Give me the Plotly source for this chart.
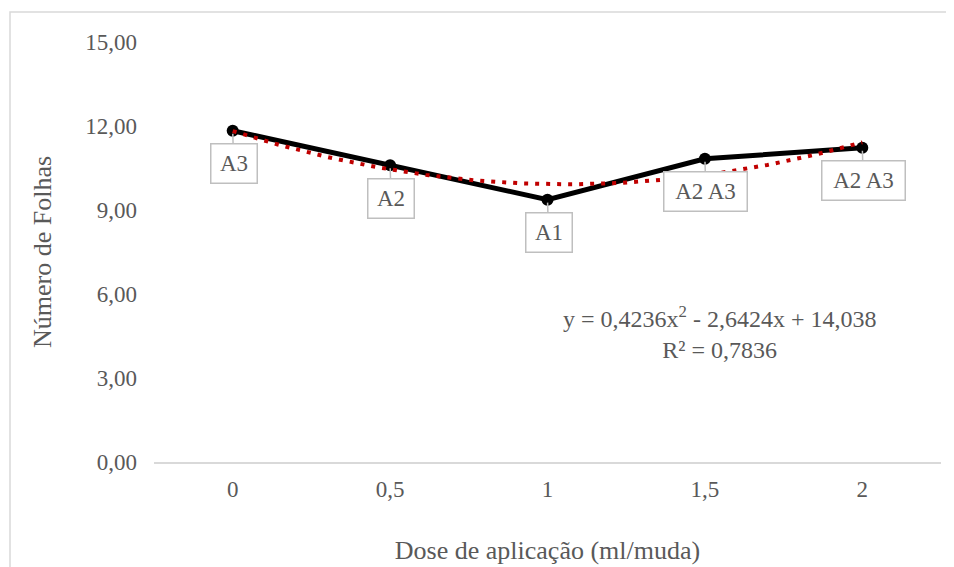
import numpy as np
import plotly.graph_objects as go

# ---- data ----
doses = [0, 0.5, 1, 1.5, 2]
dose_labels = ["0", "0,5", "1", "1,5", "2"]
folhas = [11.83, 10.60, 9.37, 10.83, 11.22]
point_labels = ["A3", "A2", "A1", "A2 A3", "A2 A3"]
y_ticks = [0, 3, 6, 9, 12, 15]

# polynomial trendline coefficients shown on the chart (x = category index 1..5)
coef_a, coef_b, coef_c = 0.4236, -2.6424, 14.038
eq_text = "y = 0,4236x<sup>2</sup> - 2,6424x + 14,038<br>R² = 0,7836"

FONT = "Liberation Serif, Times New Roman, serif"
GREY_TXT = "#595959"

# trendline evaluated on a fine grid between first and last category
idx = np.linspace(1, 5, 200)
trend_y = coef_a * idx**2 + coef_b * idx + coef_c
trend_x = (idx - 1) * 0.5

fig = go.Figure()
fig.add_trace(go.Scatter(
    x=doses, y=folhas, mode="lines+markers",
    line=dict(color="black", width=5),
    marker=dict(color="black", size=12),
    showlegend=False, hoverinfo="skip",
))
fig.add_trace(go.Scatter(
    x=trend_x, y=trend_y, mode="lines",
    line=dict(color="#C00000", width=4, dash="4px,7px"),
    showlegend=False, hoverinfo="skip",
))

for xv, yv, lab in zip(doses, folhas, point_labels):
    w = 41 if len(lab) <= 2 else 78
    fig.add_annotation(
        x=xv, y=yv, xref="x", yref="y", text=lab,
        showarrow=True, arrowhead=0, arrowwidth=1.5, arrowcolor="#BFBFBF",
        ax=1, ay=33, standoff=3,
        bgcolor="white", bordercolor="#BFBFBF", borderwidth=1.5, borderpad=2,
        width=w, height=34,
        font=dict(family=FONT, size=23, color=GREY_TXT),
    )

fig.add_annotation(
    x=1.545, y=4.62, xref="x", yref="y", text=eq_text, showarrow=False,
    xanchor="center", yanchor="middle", align="center",
    font=dict(family=FONT, size=24, color=GREY_TXT),
)

# page has an 8px body margin; plot area spans px 146..933 x 33..454.5 in figure coords
PL, PR, PT, PB = 146, 933, 33.5, 454.5
fig.add_shape(type="rect", xref="paper", yref="paper",
              x0=(2 - PL) / (PR - PL), x1=(1100 - PL) / (PR - PL),
              y0=(PB - 700) / (PB - PT), y1=(PB - 3.5) / (PB - PT),
              line=dict(color="#D9D9D9", width=1.5), fillcolor="rgba(0,0,0,0)",
              layer="below")

fig.update_layout(
    width=946, height=559,
    margin=dict(l=PL, r=946 - PR, t=PT, b=559 - PB),
    paper_bgcolor="white", plot_bgcolor="white",
    separators=",.",
    font=dict(family=FONT, color=GREY_TXT),
    xaxis=dict(
        range=[-0.25, 2.25], tickvals=doses, ticktext=dose_labels,
        showgrid=False, zeroline=False, showline=True,
        linecolor="#D9D9D9", linewidth=2, ticks="", ticklabelstandoff=5,
        tickfont=dict(family=FONT, size=23, color=GREY_TXT),
        title=dict(text="Dose de aplicação (ml/muda)", standoff=40,
                   font=dict(family=FONT, size=26, color=GREY_TXT)),
        automargin=False, fixedrange=True,
    ),
    yaxis=dict(
        range=[0, 15], tickvals=y_ticks, tickformat=".2f",
        showgrid=False, zeroline=False, showline=False, ticks="",
        ticklabelstandoff=16,
        tickfont=dict(family=FONT, size=23, color=GREY_TXT),
        title=dict(text="Número de Folhas", standoff=26,
                   font=dict(family=FONT, size=26, color=GREY_TXT)),
        automargin=False, fixedrange=True,
    ),
)

fig.write_html("out.html")
